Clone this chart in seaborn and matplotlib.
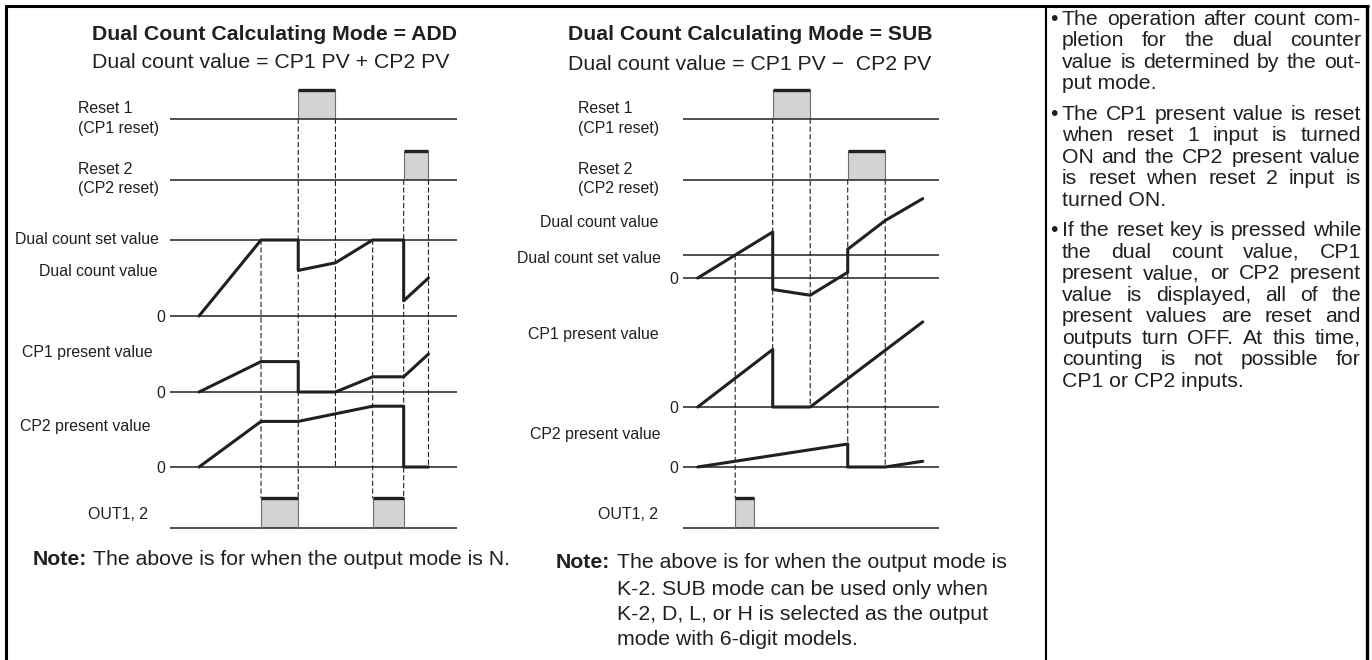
import matplotlib
matplotlib.use("Agg")
import matplotlib.pyplot as plt
from matplotlib.patches import ConnectionPatch
import seaborn as sns

sns.set_style("white")
plt.rcParams["font.family"] = ["Liberation Sans", "DejaVu Sans"]

W, H = 1372, 660
INK = "#231f20"
FILL = "#d3d3d5"
BIG = 15.3
SMALL = 11.4

# ---------------- data: ADD mode (time and counts in arbitrary units) ----------------
add_dual_t = [0, 10, 16, 16, 22, 28, 33, 33, 37]
add_dual_v = [0, 100, 100, 60, 70, 100, 100, 20, 50]
add_cp1_t = [0, 10, 16, 16, 22, 28, 33, 37]
add_cp1_v = [0, 40, 40, 0, 0, 20, 20, 50]
add_cp2_t = [0, 10, 16, 28, 33, 33, 37]
add_cp2_v = [0, 60, 60, 80, 80, 0, 0]
add_set_value = 100
add_reset1_on = [(16, 22)]
add_reset2_on = [(33, 37)]
add_out_on = [(10, 16), (28, 33)]
# (time, from row, from value, to row, to value)
add_guides = [(10, "dual", 100, "out", 1), (16, "reset1", 0, "out", 1),
              (22, "reset1", 0, "cp2", 0), (28, "dual", 100, "out", 1),
              (33, "reset2", 0, "out", 1), (37, "reset2", 0, "cp2", 0)]

# ---------------- data: SUB mode ----------------
sub_dual_t = [0, 12, 12, 18, 24, 24, 30, 36]
sub_dual_v = [0, 40, -10, -15, 5, 25, 50, 69]
sub_cp1_t = [0, 12, 12, 18, 36]
sub_cp1_v = [0, 50, 0, 0, 74]
sub_cp2_t = [0, 24, 24, 30, 36]
sub_cp2_v = [0, 20, 0, 0, 5]
sub_set_value = 20
sub_reset1_on = [(12, 18)]
sub_reset2_on = [(24, 30)]
sub_out_on = [(6, 9)]
sub_guides = [(6, "dual", 20, "out", 1), (12, "reset1", 0, "cp1", 0),
              (18, "reset1", 0, "cp1", 0), (24, "reset2", 0, "cp2", 0),
              (30, "reset2", 0, "cp2", 0)]

# ---------------- layout (pixels) ----------------
add_layout = dict(x_px=(170, 457), xlim=(-4.68, 41.6),
                  rows={"reset1": (119, 29), "reset2": (180, 29), "dual": (316, 0.76),
                        "cp1": (392, 0.76), "cp2": (467, 0.76), "out": (528, 30)})
sub_layout = dict(x_px=(683, 939), xlim=(-2.35, 38.6),
                  rows={"reset1": (119, 29), "reset2": (180, 29), "dual": (278, 1.15),
                        "cp1": (407, 1.15), "cp2": (467, 1.15), "out": (528, 30)})

fig = plt.figure(figsize=(W / 100, H / 100), dpi=100)
bg = fig.add_axes([0, 0, 1, 1])
bg.set_xlim(0, W)
bg.set_ylim(H, 0)
bg.axis("off")


def row_axes(x_px, xlim, base, ppu):
    top, bot = base - 120, base + 45
    ax = fig.add_axes([x_px[0] / W, 1 - bot / H, (x_px[1] - x_px[0]) / W, (bot - top) / H])
    ax.set_xlim(xlim)
    ax.set_ylim((base - bot) / ppu, (base - top) / ppu)
    ax.axis("off")
    ax.patch.set_alpha(0)
    ax.axhline(0, color=INK, lw=1.1)
    return ax


def pulses(ax, spans):
    for a, b in spans:
        ax.fill_between([a, b], 0, 1, color=FILL, lw=0)
        ax.plot([a, a], [0, 1], color="#6d6e70", lw=0.8)
        ax.plot([b, b], [0, 1], color="#6d6e70", lw=0.8)
        ax.plot([a, b], [1, 1], color=INK, lw=2.4, solid_capstyle="butt")


def trace(ax, t, v):
    sns.lineplot(x=t, y=v, ax=ax, color=INK, lw=2.2, sort=False, estimator=None)


def diagram(layout, dual, cp1, cp2, set_value, r1, r2, out, guides):
    axes = {k: row_axes(layout["x_px"], layout["xlim"], base, ppu)
            for k, (base, ppu) in layout["rows"].items()}
    axes["dual"].axhline(set_value, color=INK, lw=1.1)
    pulses(axes["reset1"], r1)
    pulses(axes["reset2"], r2)
    pulses(axes["out"], out)
    trace(axes["dual"], *dual)
    trace(axes["cp1"], *cp1)
    trace(axes["cp2"], *cp2)
    for t, ra, va, rb, vb in guides:
        con = ConnectionPatch(xyA=(t, va), coordsA=axes[ra].transData,
                              xyB=(t, vb), coordsB=axes[rb].transData,
                              color=INK, lw=0.8, linestyle=(0, (4, 3)))
        fig.add_artist(con)


diagram(add_layout, (add_dual_t, add_dual_v), (add_cp1_t, add_cp1_v), (add_cp2_t, add_cp2_v),
        add_set_value, add_reset1_on, add_reset2_on, add_out_on, add_guides)
diagram(sub_layout, (sub_dual_t, sub_dual_v), (sub_cp1_t, sub_cp1_v), (sub_cp2_t, sub_cp2_v),
        sub_set_value, sub_reset1_on, sub_reset2_on, sub_out_on, sub_guides)


def txt(x, y, s, size=SMALL, ha="left", weight="normal"):
    # y is the visual centre of capitals
    bg.text(x, y + 0.36 * size * 100 / 72, s, fontsize=size, ha=ha, va="baseline",
            color=INK, fontweight=weight)


# titles
txt(92, 32, "Dual Count Calculating Mode = ADD", BIG, weight="bold")
txt(92, 60, "Dual count value = CP1 PV + CP2 PV", BIG)
txt(568, 32, "Dual Count Calculating Mode = SUB", BIG, weight="bold")
txt(568, 62, "Dual count value = CP1 PV \u2212  CP2 PV", BIG)

# row labels, ADD
for x, y, s, ha in [(78, 107, "Reset 1", "left"), (78, 127, "(CP1 reset)", "left"),
                    (78, 168, "Reset 2", "left"), (78, 187, "(CP2 reset)", "left"),
                    (159, 238, "Dual count set value", "right"),
                    (157, 270, "Dual count value", "right"), (165, 316, "0", "right"),
                    (153, 351, "CP1 present value", "right"), (165, 392, "0", "right"),
                    (150, 425, "CP2 present value", "right"), (165, 467, "0", "right"),
                    (148, 513, "OUT1, 2", "right")]:
    txt(x, y, s, ha=ha)

# row labels, SUB
for x, y, s, ha in [(578, 107, "Reset 1", "left"), (578, 127, "(CP1 reset)", "left"),
                    (578, 168, "Reset 2", "left"), (578, 187, "(CP2 reset)", "left"),
                    (658, 221, "Dual count value", "right"),
                    (661, 257, "Dual count set value", "right"), (678, 278, "0", "right"),
                    (659, 333, "CP1 present value", "right"), (678, 407, "0", "right"),
                    (660, 433, "CP2 present value", "right"), (678, 467, "0", "right"),
                    (658, 513, "OUT1, 2", "right")]:
    txt(x, y, s, ha=ha)

# notes
txt(33, 557, "Note:", BIG, weight="bold")
txt(93, 557, "The above is for when the output mode is N.", BIG)
txt(556, 560, "Note:", BIG, weight="bold")
for y, s in [(560, "The above is for when the output mode is"),
             (587, "K-2. SUB mode can be used only when"),
             (612, "K-2, D, L, or H is selected as the output"),
             (637, "mode with 6-digit models.")]:
    txt(617, y, s, BIG)

# frame
bg.plot([5, 1369], [6, 6], color="k", lw=2.2, solid_capstyle="butt")
bg.plot([6.3, 6.3], [5, H], color="k", lw=2.2, solid_capstyle="butt")
bg.plot([1367, 1367], [5, H], color="k", lw=2.4, solid_capstyle="butt")
bg.plot([1046, 1046], [5, H], color="k", lw=1.5, solid_capstyle="butt")

# right-hand notes, justified
bullets = [
    ["The operation after count com-", "pletion for the dual counter",
     "value is determined by the out-", "put mode."],
    ["The CP1 present value is reset", "when reset 1 input is turned",
     "ON and the CP2 present value", "is reset when reset 2 input is", "turned ON."],
    ["If the reset key is pressed while", "the dual count value, CP1",
     "present value, or CP2 present", "value is displayed, all of the",
     "present values are reset and", "outputs turn OFF. At this time,",
     "counting is not possible for", "CP1 or CP2 inputs."],
]
renderer = fig.canvas.get_renderer()
X0, X1 = 1062, 1361
LINE, GAP = 21.5, 9
y = 17
for para in bullets:
    txt(1050, y, "\u2022", BIG)
    for i, line in enumerate(para):
        words = line.split(" ")
        if i == len(para) - 1:
            txt(X0, y, line, BIG)
        else:
            items = []
            for w in words:
                t = bg.text(0, y + 0.36 * BIG * 100 / 72, w, fontsize=BIG, va="baseline", color=INK)
                items.append((t, t.get_window_extent(renderer).width))
            gap = (X1 - X0 - sum(wd for _, wd in items)) / (len(items) - 1)
            x = X0
            for t, wd in items:
                t.set_x(x)
                x += wd + gap
        y += LINE
    y += GAP

fig.savefig("out.png", dpi=100)
